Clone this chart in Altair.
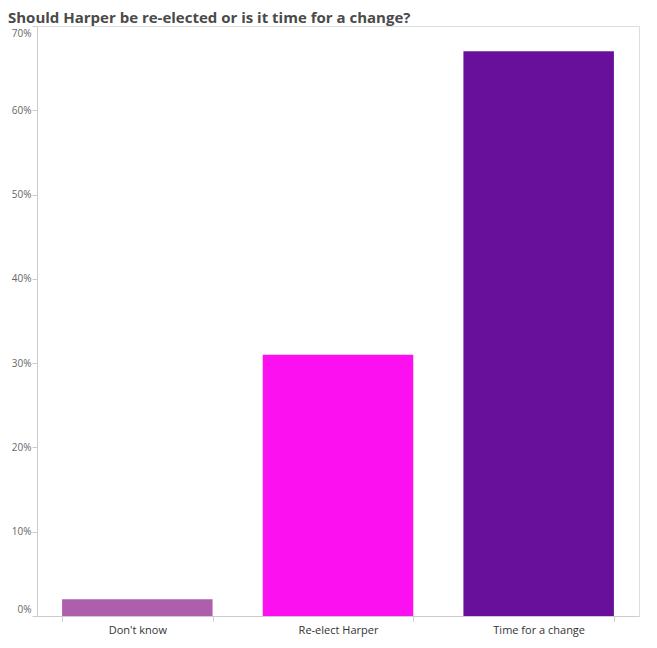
import altair as alt
import pandas as pd

categories = ["Don't know", "Re-elect Harper", "Time for a change"]
shares = [0.02, 0.31, 0.67]
colors = ["#ad5fae", "#fd10f0", "#68109c"]

df = pd.DataFrame({"answer": categories, "share": shares})

chart = (
    alt.Chart(df)
    .mark_bar()
    .encode(
        x=alt.X(
            "answer:N",
            sort=categories,
            title=None,
            scale=alt.Scale(paddingInner=0.25, paddingOuter=0.125),
            axis=alt.Axis(
                labelAngle=0,
                tickBand="extent",
                tickSize=5,
                tickColor="#cccccc",
                domainColor="#cccccc",
                labelColor="#333333",
                labelFont="Open Sans",
                labelFontSize=11,
                labelPadding=3,
            ),
        ),
        y=alt.Y(
            "share:Q",
            title=None,
            scale=alt.Scale(domain=[0, 0.7], nice=False),
            axis=alt.Axis(
                format=".0%",
                values=[0, 0.1, 0.2, 0.3, 0.4, 0.5, 0.6, 0.7],
                grid=False,
                tickSize=5,
                tickColor="#cccccc",
                domainColor="#cccccc",
                labelColor="#666666",
                labelFont="Open Sans",
                labelFontSize=10,
                labelPadding=1,
                labelFlush=True,
                labelFlushOffset=-2,
            ),
        ),
        color=alt.Color(
            "answer:N",
            scale=alt.Scale(domain=categories, range=colors),
            legend=None,
        ),
    )
    .properties(
        width=602,
        height=590,
        autosize=alt.AutoSizeParams(type="none"),
        padding={"left": 29, "top": 18, "right": 10, "bottom": 24},
        title=alt.TitleParams(
            "Should Harper be re-elected or is it time for a change?",
            anchor="start",
            frame="group",
            dx=-29,
            dy=8,
            offset=8,
            font="Open Sans",
            fontSize=15,
            fontWeight="bold",
            color="#4a4a4a",
        ),
    )
    .configure_view(stroke="#dddddd", strokeWidth=1)
)

chart.save("out.html", embed_options={"renderer": "svg", "actions": False})
